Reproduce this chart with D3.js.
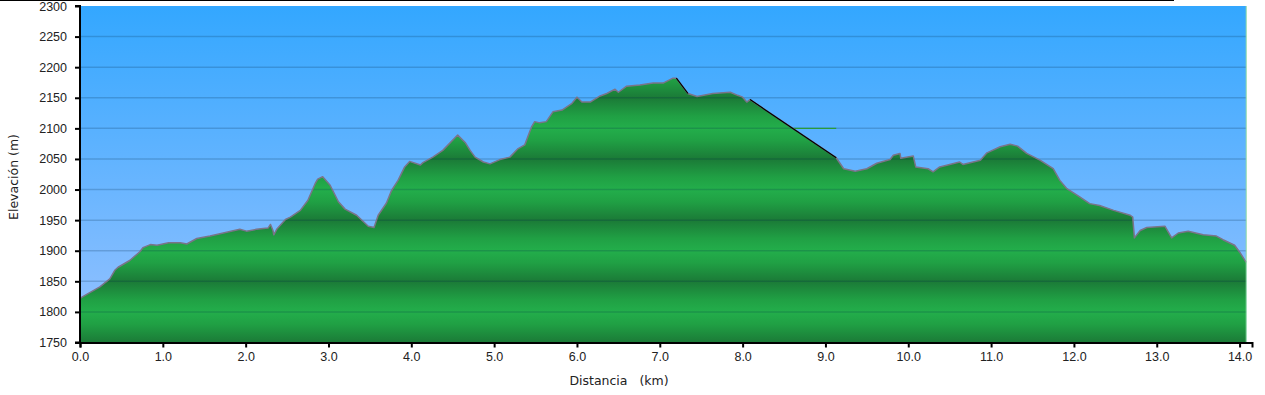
<!DOCTYPE html>
<html>
<head>
<meta charset="utf-8">
<script src="https://cdn.jsdelivr.net/npm/d3@7"></script>
<style>
  body { margin: 0; background: #fff; }
  svg { display: block; font-family: "DejaVu Sans", Verdana, sans-serif; }
  .tick text { fill: #222; font-size: 12.5px; }
</style>
</head>
<body>
<script>
// Profile distance (km) and elevation (m)
const distKm = [0.00, 0.06, 0.24, 0.36, 0.42, 0.46, 0.60, 0.72, 0.76, 0.85, 0.93, 1.07, 1.21, 1.29, 1.41, 1.57,
  1.73, 1.93, 2.01, 2.13, 2.27, 2.30, 2.33, 2.34, 2.38, 2.48, 2.54, 2.66, 2.75, 2.84, 2.87, 2.93,
  3.02, 3.12, 3.20, 3.34, 3.48, 3.55, 3.60, 3.70, 3.76, 3.84, 3.92, 3.98, 4.11, 4.14, 4.26, 4.38,
  4.56, 4.65, 4.71, 4.77, 4.87, 4.95, 5.07, 5.19, 5.29, 5.37, 5.45, 5.49, 5.55, 5.63, 5.71, 5.82,
  5.94, 6.00, 6.06, 6.16, 6.28, 6.36, 6.46, 6.50, 6.60, 6.76, 6.92, 7.04, 7.16, 7.20, 7.34, 7.45,
  7.64, 7.85, 7.94, 8.00, 8.05, 8.09, 9.13, 9.22, 9.36, 9.50, 9.62, 9.78, 9.82, 9.90, 9.91, 10.06,
  10.09, 10.24, 10.30, 10.38, 10.62, 10.66, 10.87, 10.95, 11.11, 11.23, 11.32, 11.43, 11.59, 11.75,
  11.83, 11.91, 12.07, 12.19, 12.31, 12.48, 12.68, 12.71, 12.73, 12.80, 12.88, 13.10, 13.18, 13.26,
  13.38, 13.56, 13.72, 13.80, 13.94, 14.00, 14.08];
const elevM = [1822, 1827, 1841, 1854, 1868, 1873, 1884, 1898, 1905, 1910, 1909, 1913, 1913, 1911, 1920, 1924,
  1929, 1935, 1932, 1935, 1937, 1943, 1933, 1926, 1936, 1951, 1955, 1966, 1982, 2010, 2017, 2021,
  2007, 1980, 1968, 1958, 1940, 1938, 1958, 1978, 1998, 2015, 2037, 2046, 2040, 2044, 2053, 2064,
  2089, 2077, 2064, 2053, 2045, 2042, 2049, 2053, 2067, 2073, 2102, 2111, 2109, 2111, 2127, 2130,
  2141, 2151, 2143, 2143, 2153, 2157, 2164, 2159, 2169, 2171, 2174, 2174, 2182, 2182, 2157, 2152,
  2157, 2159, 2154, 2151, 2143, 2147, 2052, 2034, 2030, 2034, 2043, 2049, 2056, 2059, 2051, 2055,
  2037, 2034, 2029, 2037, 2045, 2041, 2048, 2060, 2070, 2074, 2071, 2059, 2048, 2034,
  2015, 2002, 1988, 1977, 1974, 1966, 1958, 1955, 1921, 1933, 1938, 1940, 1921, 1929,
  1932, 1926, 1924, 1918, 1909, 1898, 1881];

// Stretches without track points, drawn as a plain black line
const gapRanges = [[7.20, 7.34], [8.09, 9.13]];

const yTicks = [1750, 1800, 1850, 1900, 1950, 2000, 2050, 2100, 2150, 2200, 2250, 2300];
const xTicks = [0, 1, 2, 3, 4, 5, 6, 7, 8, 9, 10, 11, 12, 13, 14];

const W = 1265, H = 395;

const data = distKm.map((d, i) => ({ km: d, m: elevM[i] }));

const x = d3.scaleLinear().domain([0, 14.15]).range([80, 1252]);
const y = d3.scaleLinear().domain([1750, 2300]).range([342.5, 6]);
const xEnd = x(d3.max(distKm));

const svg = d3.select("body").append("svg")
  .attr("width", W)
  .attr("height", H);

const defs = svg.append("defs");

// sky gradient
const sky = defs.append("linearGradient")
  .attr("id", "sky")
  .attr("gradientUnits", "userSpaceOnUse")
  .attr("x1", 0).attr("x2", 0)
  .attr("y1", y(2300)).attr("y2", y(1750));
sky.append("stop").attr("offset", 0).attr("stop-color", "#33a7ff");
sky.append("stop").attr("offset", 1).attr("stop-color", "#98c2ff");

// banded green, one band every 100 m
const ground = defs.append("linearGradient")
  .attr("id", "ground")
  .attr("gradientUnits", "userSpaceOnUse")
  .attr("spreadMethod", "repeat")
  .attr("x1", 0).attr("x2", 0)
  .attr("y1", y(1850)).attr("y2", y(1750));
[[0, "#1b7a37"], [0.3, "#20a044"], [0.5, "#23ae4b"], [0.7, "#20a044"], [1, "#1b7a37"]]
  .forEach(s => ground.append("stop").attr("offset", s[0]).attr("stop-color", s[1]));

// top frame line
svg.append("line")
  .attr("x1", 0).attr("x2", 1174)
  .attr("y1", 0.5).attr("y2", 0.5)
  .attr("stroke", "#000");

// background
svg.append("rect")
  .attr("x", x(0)).attr("y", y(2300))
  .attr("width", xEnd - x(0))
  .attr("height", y(1750) - y(2300))
  .attr("fill", "url(#sky)");

// elevation area
const area = d3.area()
  .x(d => x(d.km))
  .y0(y(1750))
  .y1(d => y(d.m));

svg.append("path")
  .datum(data)
  .attr("d", area)
  .attr("fill", "url(#ground)");

// grid lines
svg.append("g")
  .selectAll("line")
  .data(yTicks.filter(t => t > 1750 && t < 2300))
  .join("line")
  .attr("x1", x(0)).attr("x2", xEnd)
  .attr("y1", d => y(d)).attr("y2", d => y(d))
  .attr("stroke", "rgba(0,40,70,0.2)")
  .attr("stroke-width", 1.5);

// small green grid artefact near the descent
svg.append("line")
  .attr("x1", x(8.61)).attr("x2", x(9.13))
  .attr("y1", y(2100)).attr("y2", y(2100))
  .attr("stroke", "#2a9a3a")
  .attr("stroke-width", 1.2);

// profile outline
const line = d3.line()
  .x(d => x(d.km))
  .y(d => y(d.m));

svg.append("path")
  .datum(data)
  .attr("d", line)
  .attr("fill", "none")
  .attr("stroke", "#7a7488")
  .attr("stroke-width", 1.5)
  .attr("stroke-linejoin", "round");

gapRanges.forEach(r => {
  svg.append("path")
    .datum(data.filter(d => d.km >= r[0] && d.km <= r[1]))
    .attr("d", line)
    .attr("fill", "none")
    .attr("stroke", "#000")
    .attr("stroke-width", 1.2);
});

// right edge
svg.append("line")
  .attr("x1", xEnd).attr("x2", xEnd)
  .attr("y1", y(2300)).attr("y2", y(1750))
  .attr("stroke", "#8fd9a4")
  .attr("stroke-width", 1);

// axes
const yAxis = svg.append("g")
  .attr("transform", `translate(${x(0)},0)`)
  .call(d3.axisLeft(y).tickValues(yTicks).tickSize(5).tickPadding(8).tickFormat(d3.format("d")));

const xAxis = svg.append("g")
  .attr("transform", `translate(0,${y(1750)})`)
  .call(d3.axisBottom(x).tickValues(xTicks).tickSize(5).tickPadding(5).tickFormat(d3.format(".1f")));

[yAxis, xAxis].forEach(a => {
  a.select(".domain").attr("stroke", "#000").attr("stroke-width", 2);
  a.selectAll(".tick line").attr("stroke", "#000").attr("stroke-width", 2);
});
yAxis.select(".domain").attr("d", `M-5,${y(2300)}H0V${y(1750)}H-5`);

// axis titles
svg.append("text")
  .attr("x", 619)
  .attr("y", 385)
  .attr("text-anchor", "middle")
  .attr("font-size", 12.5)
  .attr("fill", "#222")
  .style("white-space", "pre")
  .text("Distancia   (km)");

svg.append("text")
  .attr("transform", "translate(18,177) rotate(-90)")
  .attr("text-anchor", "middle")
  .attr("font-size", 12.5)
  .attr("fill", "#222")
  .text("Elevación (m)");
</script>
</body>
</html>
